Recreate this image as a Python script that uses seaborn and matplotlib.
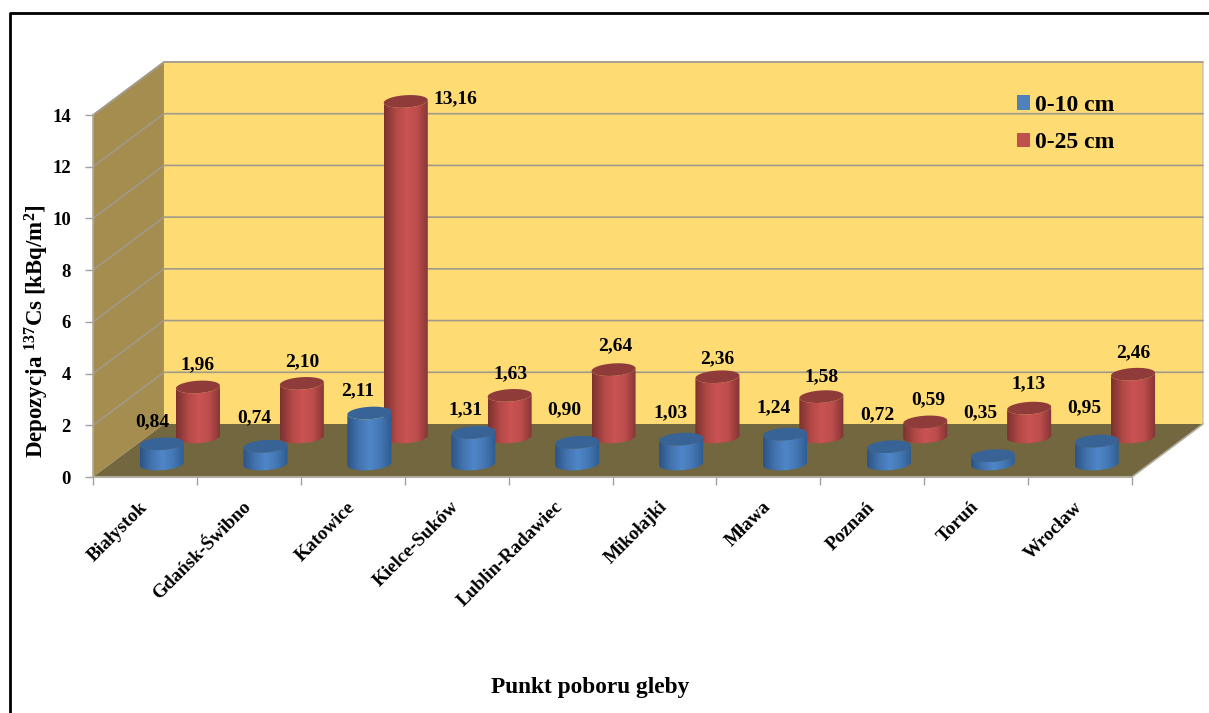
import numpy as np
import pandas as pd
import seaborn as sns
import matplotlib.pyplot as plt
from matplotlib.colors import LinearSegmentedColormap
from matplotlib.lines import Line2D
from matplotlib.patches import Polygon, PathPatch, Patch
from matplotlib.path import Path

categories = ["Białystok", "Gdańsk-Świbno", "Katowice", "Kielce-Suków", "Lublin-Radawiec",
              "Mikołajki", "Mława", "Poznań", "Toruń", "Wrocław"]
depth_10 = [0.84, 0.74, 2.11, 1.31, 0.90, 1.03, 1.24, 0.72, 0.35, 0.95]
depth_25 = [1.96, 2.10, 13.16, 1.63, 2.64, 2.36, 1.58, 0.59, 1.13, 2.46]
labels_10 = ["0,84", "0,74", "2,11", "1,31", "0,90", "1,03", "1,24", "0,72", "0,35", "0,95"]
labels_25 = ["1,96", "2,10", "13,16", "1,63", "2,64", "2,36", "1,58", "0,59", "1,13", "2,46"]

# labels were moved by hand in the original, offsets in pixels from the cylinder top
offsets_10 = [(-9, 22), (-11, 28), (-12, 22), (-8, 23), (-13, 33), (-11, 26), (-11, 26), (-11, 32), (-12, 43), (-12, 33)]
offsets_25 = [(0, 22), (0, 22), (50, 3), (1, 22), (2, 24), (0, 18), (0, 20), (3, 22), (-1, 24), (0, 21)]

W, H = 1209, 713
sns.set_theme(style="white", font="Liberation Serif")
plt.rcParams["font.weight"] = "bold"
plt.rcParams["text.color"] = "black"
plt.rcParams["xtick.color"] = "black"
plt.rcParams["ytick.color"] = "black"
plt.rcParams["mathtext.fontset"] = "custom"
plt.rcParams["mathtext.bf"] = "Liberation Serif:bold"
plt.rcParams["mathtext.rm"] = "Liberation Serif:bold"

fig = plt.figure(figsize=(W / 100, H / 100), dpi=100)
ax = fig.add_axes([93 / W, 1 - 477 / H, (1132 - 93) / W, (477 - 115) / H])

# 3d depth of the chart box, in data units
dx, dy = 0.683, 2.05
grid_col = "#a09a8a"

ax.add_patch(Polygon([(dx, dy), (10 + dx, dy), (10 + dx, 14 + dy), (dx, 14 + dy)], fc="#ffdb74", ec="none", zorder=0.5, clip_on=False))
ax.add_patch(Polygon([(0, 0), (dx, dy), (dx, 14 + dy), (0, 14)], fc="#a48d4f", ec="none", zorder=0.6, clip_on=False))
ax.add_patch(Polygon([(0, 0), (10, 0), (10 + dx, dy), (dx, dy)], fc="#72673e", ec="none", zorder=0.7, clip_on=False))

for v in range(2, 16, 2):
    ax.plot([0, dx, 10 + dx], [v, v + dy, v + dy], color=grid_col, lw=1.2, zorder=0.9, clip_on=False)
ax.plot([0, 10, 10 + dx], [0, 0, dy], color="#b0aca0", lw=1.2, zorder=0.9, clip_on=False)
ax.plot([0, dx, dx, 10 + dx, 10 + dx], [14, 14 + dy, 14 + dy, 14 + dy, dy], color="#c4c0b4", lw=1, zorder=0.8, clip_on=False)

pos_10 = np.arange(10) + 0.66
pos_25 = np.arange(10) + 1.01
bar_w = 0.424
ell_h = 0.48
tilt = 0.25  # ellipses lean up to the right in the original


def rim(cx, y, w, start, stop):
    t = np.linspace(start, stop, 40)
    xs = cx + w / 2 * np.cos(t)
    return np.column_stack([xs, y + ell_h / 2 * np.sin(t) + tilt * (xs - cx)])


def cylinders(pos, values, base, scale, colors, top_col, zorder):
    df = pd.DataFrame({"pos": pos, "value": np.array(values) * scale})
    n_before = len(ax.patches)
    sns.barplot(data=df, x="pos", y="value", native_scale=True, width=bar_w, bottom=base,
                color=colors[1], saturation=1, errorbar=None, ax=ax, zorder=zorder, clip_on=False)
    cmap = LinearSegmentedColormap.from_list("cyl", colors)
    grad = np.linspace(0, 1, 64).reshape(1, -1)
    tops = []
    for bar in ax.patches[n_before:]:
        x0, w, top = bar.get_x(), bar.get_width(), bar.get_y() + bar.get_height()
        cx = x0 + w / 2
        tops.append((cx, top))
        # outline: bottom rim, then back along the top rim
        verts = np.vstack([rim(cx, base, w, np.pi, 2 * np.pi), rim(cx, top, w, 2 * np.pi, np.pi)])
        clip = PathPatch(Path(np.vstack([verts, verts[:1]])), transform=ax.transData)
        bar.set_visible(False)
        im = ax.imshow(grad, cmap=cmap, extent=(x0, x0 + w, base - ell_h, top + ell_h), aspect="auto",
                       zorder=zorder, interpolation="bilinear")
        im.set_clip_box(fig.bbox)
        im.set_clip_path(clip)
        ax.add_patch(Polygon(rim(cx, top, w, 0, 2 * np.pi), fc=top_col, ec="none", zorder=zorder + 0.1, clip_on=False))
    return tops


tops_25 = cylinders(pos_25, depth_25, 1.55, 0.986, ["#7c3130", "#b04845", "#cb5353", "#bb4d4c", "#823433"], "#8f3b3a", 3)
tops_10 = cylinders(pos_10, depth_10, 0.50, 0.936, ["#2b5588", "#4272ad", "#4f86c8", "#4478b4", "#2e5b90"], "#386397", 4)

ax.set_xlim(0, 10)
ax.set_ylim(0, 14)
ax.patch.set_visible(False)

for tops, labels, offsets in [(tops_10, labels_10, offsets_10), (tops_25, labels_25, offsets_25)]:
    for (cx, top), txt, off in zip(tops, labels, offsets):
        ax.annotate(txt, (cx, top), xytext=off, textcoords="offset pixels", ha="center", va="center",
                    fontsize=14, color="black", zorder=6, annotation_clip=False)

ax.set_yticks(range(0, 15, 2))
ax.set_xticks(range(0, 11))
ax.set_xticklabels([])
ax.set_xticks(np.arange(10) + 0.44, minor=True)
ax.set_xticklabels(categories, minor=True, rotation=45, ha="right", rotation_mode="anchor", fontsize=13.8)
ax.tick_params(axis="x", which="minor", length=0, pad=15.5)
ax.tick_params(axis="both", which="major", length=6, width=1, color="#a0a0a0", bottom=True, left=True)
ax.tick_params(axis="y", labelsize=13.5, pad=10)
for side, sp in ax.spines.items():
    sp.set_visible(side in ("left", "bottom"))
    sp.set_color("#b0aca0")
ax.set_xlabel("")
ax.set_ylabel("")
ax.grid(False)

fig.text(37 / W, 1 - 331 / H, r"Depozycja $\mathbf{^{137}}$Cs [kBq/m$\mathbf{^{2}}$]", rotation=90,
         ha="center", va="center", fontsize=16.5, color="black")
fig.text(590 / W, 1 - 687 / H, "Punkt poboru gleby", ha="center", va="center", fontsize=16.8, color="black")

handles = [Patch(fc="#4f81bd", ec="none", label="0-10 cm"), Patch(fc="#c0504d", ec="none", label="0-25 cm")]
fig.legend(handles=handles, loc="upper left", bbox_to_anchor=(998 / W, 1 - 76 / H), frameon=False,
           fontsize=17, handlelength=0.55, handleheight=0.55, handletextpad=0.22, labelspacing=0.7, borderpad=0.3)

fig.add_artist(Line2D([10 / W, 10 / W, 1], [0, 1 - 13 / H, 1 - 13 / H], color="black", lw=2))

fig.savefig("out.png", dpi=100)
